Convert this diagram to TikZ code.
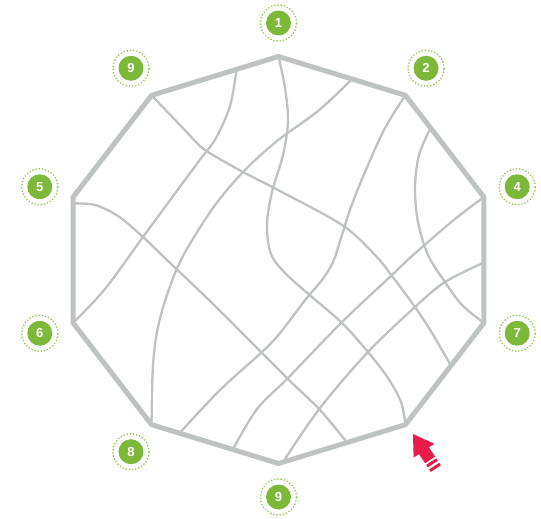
\documentclass[tikz,border=0pt]{standalone}
\usepackage{fontspec}
\setsansfont{Liberation Sans}
\usetikzlibrary{calc}
\definecolor{rimgray}{RGB}{190,194,194}
\definecolor{leafgreen}{RGB}{126,184,58}
\definecolor{dotgreen}{RGB}{146,198,74}
\definecolor{pointred}{RGB}{233,27,75}

\begin{document}
\begin{tikzpicture}[
  x=1pt, y=-1pt,
  rim/.style={draw=rimgray, line width=5pt, line join=round},
  street/.style={draw=rimgray, line width=2.3pt, smooth, tension=0.55},
  badge/.style={circle, fill=leafgreen, minimum size=25pt, inner sep=0pt,
                text=white, font=\sffamily\bfseries\fontsize{13}{13}\selectfont},
  ring/.style={draw=dotgreen, line width=1.8pt, line cap=round,
               dash pattern=on 0pt off 3.2pt},
  pointer/.style={fill=pointred},
]
\useasboundingbox (0,0) rectangle (541,519);
% corners of the ten-sided plot
\foreach \a [count=\i from 0] in {90,54,18,-18,-54,-90,-126,-162,162,126}
  \coordinate (v\i) at ({278.5+216*cos(\a)},{260-203.5*sin(\a)});
% where the inner lines meet the sides
\coordinate (e1) at ($(v9)!0.67!(v0)$);
\coordinate (e3) at ($(v0)!0.58!(v1)$);
\coordinate (e5) at ($(v1)!0.32!(v2)$);
\coordinate (e9) at ($(v2)!0.52!(v3)$);
\coordinate (e7) at ($(v8)!0.05!(v7)$);
\coordinate (f4) at ($(v6)!0.22!(v5)$);
\coordinate (f6) at ($(v6)!0.64!(v5)$);
\coordinate (f7) at ($(v5)!0.54!(v4)$);
\coordinate (f8) at ($(v3)!0.42!(v4)$);
\coordinate (f9) at ($(v5)!0.035!(v4)$);
% inner lines
\draw[street] plot coordinates {(e1) (230,106) (216,138) (202,157) (179,188)
  (143,237) (105,289) (v7)};
\draw[street] plot coordinates {(v0) (285,88) (288,121) (283,155) (272,192)
  (267,225) (271,254) (286,274) (312,297) (342,323) (368,352) (388,378) (401,402) (v4)};
\draw[street] plot coordinates {(e3) (318,111) (277,141) (243,172) (213,208)
  (183,256) (168,292) (158,327) (153,365) (v6)};
\draw[street] plot coordinates {(v1) (385,128) (365,172) (351,207) (341,238)
  (333,262) (322,280) (306,299) (280,333) (262,352) (220,390) (f4)};
\draw[street] plot coordinates {(e5) (419,155) (415,188) (418,222) (428,255)
  (445,282) (462,305) (v3)};
\draw[street] plot coordinates {(v2) (455,219) (412,256) (392,275) (342,322)
  (288,378) (257,409) (f6)};
\draw[street] plot coordinates {(e7) (95,205) (118,216) (143,237) (167,260)
  (212,303) (262,353) (290,381) (320,410) (f7)};
\draw[street] plot coordinates {(v9) (180,125) (196,142) (208,152) (243,172)
  (278,190) (342,225) (375,255) (392,276) (415,307) (432,333) (f8)};
\draw[street] plot coordinates {(e9) (445,282) (415,307) (368,352) (320,408) (f9)};
% outline
\draw[rim] (v0) -- (v1) -- (v2) -- (v3) -- (v4) -- (v5) -- (v6) -- (v7) -- (v8)
  -- (v9) -- cycle;
% numbered corners
\foreach \a/\t [count=\i] in {90/1,54/2,18/4,-18/7,-90/9,-126/8,-162/6,162/5,126/9} {
  \node[badge] (b\i) at ({278.5+251*cos(\a)},{260-237*sin(\a)}) {\t};
  \draw[ring] (b\i.center) circle (18pt);
}
% red pointer at the open corner
\fill[pointer] (413,434) -- (434.4,443.8) -- (429,447.4) -- (435.1,456.6)
  -- (425.1,463.2) -- (419,454) -- (413.6,457.6) -- cycle;
\fill[pointer] (436.2,458.3) -- (437.8,460.8) -- (427.8,467.4) -- (426.2,464.9) -- cycle;
\fill[pointer] (439.2,462.8) -- (440.8,465.3) -- (430.8,471.9) -- (429.2,469.4) -- cycle;
\end{tikzpicture}
\end{document}
